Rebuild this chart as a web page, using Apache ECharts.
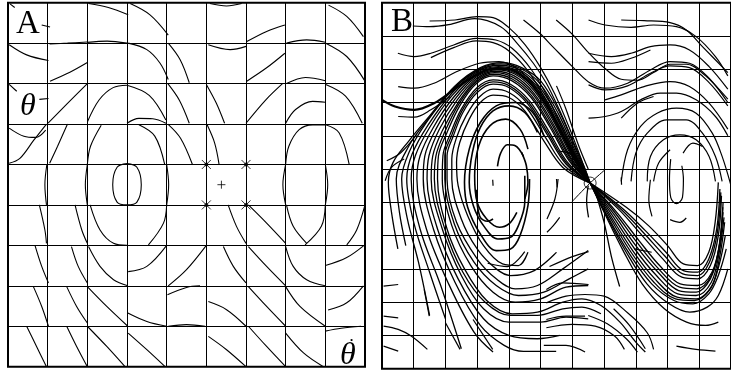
<!DOCTYPE html>
<html>
<head>
<meta charset="utf-8">
<script src="https://cdn.jsdelivr.net/npm/echarts@6/dist/echarts.min.js"></script>
<style>
  html, body { margin: 0; padding: 0; background: #fff; }
  #chart { width: 731px; height: 371px; }
</style>
</head>
<body>
<div id="chart"></div>
<script>
// panel A: 9 x 9 cells, one short curve per cell (x = cell column, y = cell row from top)
const segmentsA = [
  [[0.05,0.03],[0.17,0.12]],
  [[0.85,0.55],[1.06,0.6]],
  [[2.03,0.02],[2.53,0.12],[3.03,0.3]],
  [[3.08,0.02],[3.58,0.3],[4.04,0.8]],
  [[5.09,0.02],[5.51,0.08],[5.89,0.02]],
  [[6.02,0.96],[6.52,0.71],[6.98,0.55]],
  [[8.08,0.06],[8.54,0.34],[8.96,0.84]],
  [[1.05,1.02],[1.5,1.0],[2.0,0.97]],
  [[2.0,0.98],[2.5,0.95],[3.0,1.0]],
  [[7.02,1.0],[7.53,0.92],[8.0,0.98]],
  [[0.03,1.04],[0.47,1.29],[1.02,1.43]],
  [[1.06,1.94],[1.56,1.72],[2.0,1.48]],
  [[3.03,1.0],[3.5,1.16],[3.83,1.49],[4.04,1.9]],
  [[4.04,1.0],[4.34,1.41],[4.57,1.98]],
  [[5.05,1.04],[5.6,1.16],[6.0,1.08]],
  [[6.02,1.94],[6.52,1.61],[6.98,1.25]],
  [[7.02,2.0],[7.5,1.85],[8.0,1.93]],
  [[8.01,1.0],[8.54,1.33],[9.0,1.94]],
  [[0.03,2.02],[0.22,2.19]],
  [[0.79,2.39],[1.02,2.37]],
  [[1.01,2.98],[1.5,2.49],[2.0,2.0]],
  [[2.0,2.95],[2.3,2.4],[2.65,2.1],[3.0,2.04]],
  [[3.0,2.04],[3.56,2.29],[3.98,2.9]],
  [[3.0,2.98],[3.3,2.86],[3.65,2.87],[3.98,2.98]],
  [[4.03,2.0],[4.32,2.41],[4.57,2.98]],
  [[5.0,2.02],[5.25,2.48],[5.46,2.98]],
  [[6.0,2.98],[6.5,2.4],[6.92,2.0]],
  [[7.0,2.98],[7.25,2.64],[7.68,2.44],[8.0,2.46]],
  [[8.01,2.02],[8.51,2.31],[8.93,2.98]],
  [[0.03,3.1],[0.4,3.3],[0.7,3.33],[0.95,3.15]],
  [[0.03,3.97],[0.3,3.85],[0.65,3.4],[0.97,3.0]],
  [[1.05,3.97],[1.25,3.55],[1.5,3.0]],
  [[2.0,4.0],[2.08,3.55],[2.35,3.03]],
  [[3.3,3.02],[3.7,3.3],[3.95,4.0]],
  [[4.03,3.0],[4.35,3.35],[4.65,4.0]],
  [[5.02,3.02],[5.21,3.47],[5.32,3.99]],
  [[7.0,3.99],[7.08,3.55],[7.34,3.14],[7.68,3.02],[8.0,3.02]],
  [[8.01,3.02],[8.35,3.22],[8.6,3.99]],
  [[0.98,4.0],[0.93,4.5],[0.97,5.0]],
  [[2.0,4.0],[1.95,4.5],[2.0,5.0]],
  [[4.0,4.0],[4.05,4.5],[4.0,5.0]],
  [[3.0,3.98],[3.25,4.07],[3.36,4.5],[3.25,4.93],[3.0,5.0],[2.75,4.93],[2.64,4.5],[2.75,4.07],[3.0,3.98]],
  [[7.0,4.0],[6.93,4.5],[7.0,5.0]],
  [[8.0,4.0],[8.06,4.5],[8.0,5.0]],
  [[0.79,5.0],[0.93,5.62],[0.97,5.95]],
  [[1.69,5.0],[1.86,5.62],[2.0,5.95]],
  [[2.07,5.0],[2.32,5.62],[2.66,5.95],[3.0,6.0]],
  [[4.0,5.0],[3.92,5.45],[3.54,5.99]],
  [[5.55,5.0],[5.76,5.53],[6.0,5.95]],
  [[6.06,5.0],[6.52,5.45],[7.0,5.95]],
  [[7.02,5.0],[7.19,5.53],[7.53,5.95]],
  [[8.0,5.0],[7.9,5.53],[7.49,5.99]],
  [[9.0,5.0],[8.79,5.62],[8.54,5.99]],
  [[0.68,6.0],[0.85,6.52],[1.02,6.93]],
  [[1.6,6.03],[1.77,6.52],[2.0,6.93]],
  [[2.03,6.03],[2.32,6.52],[2.66,6.85],[3.02,7.0]],
  [[3.03,6.65],[3.5,6.52],[4.0,6.0]],
  [[4.04,7.0],[4.5,6.6],[5.0,6.0]],
  [[5.43,6.03],[5.68,6.52],[6.0,6.93]],
  [[6.06,6.03],[6.52,6.52],[7.0,7.0]],
  [[7.0,6.03],[7.19,6.52],[7.53,6.85],[8.0,7.0]],
  [[8.0,6.5],[8.54,6.3],[9.0,5.98]],
  [[0.64,7.02],[0.85,7.51],[1.02,8.0]],
  [[1.48,7.02],[1.73,7.51],[2.0,7.92]],
  [[2.0,7.02],[2.49,7.51],[3.02,8.0]],
  [[3.02,7.67],[3.5,7.88],[4.0,8.0]],
  [[4.02,7.22],[4.5,7.04],[4.84,7.0]],
  [[5.05,7.39],[5.51,7.59],[6.0,8.0]],
  [[6.06,7.02],[6.52,7.51],[7.0,8.0]],
  [[7.0,7.02],[7.36,7.51],[8.0,8.0]],
  [[8.07,7.6],[8.54,7.42],[8.96,7.0]],
  [[0.47,8.0],[0.72,8.5],[0.97,9.0]],
  [[1.48,8.0],[1.73,8.5],[2.0,9.0]],
  [[2.0,8.0],[2.49,8.5],[2.95,9.0]],
  [[3.03,8.17],[3.5,8.58],[3.96,9.0]],
  [[4.04,8.0],[4.5,7.96],[4.97,8.0]],
  [[5.05,8.25],[5.51,8.58],[6.0,9.0]],
  [[6.06,8.0],[6.52,8.5],[7.0,9.0]],
  [[7.0,8.17],[7.45,8.66],[7.95,9.0]],
  [[8.0,8.12],[8.4,8.05],[8.9,8.0]]
];
const saddleMarksA = [[5,4],[6,4],[5,5],[6,5]];
const centreMarkA = [[5.38,4.5]];

// panel B: 11 x 11 cells (the right edge is cut off by the page)
const leftBundleB = [
  [[6.56,5.42],[6.15,4.5],[5.6,3.3],[5.0,2.35],[4.4,1.95],[3.8,1.8],[3.1,1.95],[2.3,2.5],[1.5,3.4],[0.85,4.15],[0.35,4.8],[0.2,5.4],[0.3,6.3],[0.5,7.4]],
  [[6.56,5.42],[6.12,4.52],[5.55,3.32],[4.95,2.4],[4.35,1.97],[3.75,1.84],[3.05,2.0],[2.25,2.58],[1.45,3.5],[0.85,4.3],[0.45,5.3],[0.55,6.3],[0.75,7.3]],
  [[6.56,5.42],[6.1,4.55],[5.5,3.35],[4.9,2.45],[4.3,2.0],[3.7,1.88],[3.0,2.05],[2.2,2.65],[1.4,3.6],[0.85,4.5],[0.62,5.3],[0.8,6.5],[1.15,7.8],[1.5,9.4]],
  [[6.56,5.42],[6.07,4.58],[5.47,3.4],[4.87,2.5],[4.27,2.04],[3.67,1.92],[2.97,2.1],[2.2,2.72],[1.45,3.68],[0.95,4.55],[0.78,5.3],[1.0,6.6],[1.5,8.1],[2.0,9.5]],
  [[6.56,5.42],[6.05,4.6],[5.45,3.45],[4.85,2.55],[4.25,2.08],[3.65,1.95],[2.95,2.15],[2.2,2.8],[1.5,3.75],[1.05,4.6],[0.92,5.3],[1.2,6.8],[1.85,8.5],[2.5,10.4]],
  [[6.56,5.42],[6.02,4.62],[5.42,3.5],[4.82,2.6],[4.22,2.12],[3.62,1.98],[2.95,2.2],[2.25,2.85],[1.6,3.78],[1.2,4.6],[1.1,5.3],[1.4,6.8],[2.1,8.45],[2.9,9.9],[3.5,10.5]],
  [[6.56,5.42],[6.0,4.65],[5.4,3.55],[4.8,2.65],[4.2,2.15],[3.6,2.02],[2.95,2.25],[2.3,2.9],[1.7,3.8],[1.35,4.6],[1.3,5.3],[1.62,6.8],[2.3,8.4],[3.1,9.7],[3.85,10.3],[4.46,10.48],[5.49,10.48]],
  [[6.56,5.42],[5.97,4.68],[5.37,3.6],[4.77,2.7],[4.17,2.2],[3.57,2.06],[2.95,2.3],[2.35,2.95],[1.8,3.82],[1.48,4.6],[1.42,5.3],[1.75,6.8],[2.4,8.3],[3.2,9.5],[4.0,10.0],[4.9,10.1],[5.6,10.0]],
  [[6.56,5.42],[5.95,4.7],[5.35,3.65],[4.75,2.75],[4.15,2.25],[3.55,2.1],[2.95,2.35],[2.4,3.0],[1.9,3.85],[1.6,4.6],[1.55,5.3],[1.9,6.8],[2.5,8.2],[3.2,9.2],[4.0,9.6],[5.0,9.6],[5.8,9.45],[6.5,9.5]],
  [[6.56,5.42],[5.92,4.72],[5.32,3.7],[4.72,2.8],[4.12,2.3],[3.52,2.15],[2.95,2.4],[2.42,3.05],[1.98,3.88],[1.7,4.6],[1.65,5.3],[1.98,6.8],[2.55,8.1],[3.25,9.0],[4.05,9.4],[4.9,9.4],[5.7,9.2],[6.3,9.15],[6.9,9.35]],
  [[6.56,5.42],[5.9,4.75],[5.3,3.75],[4.7,2.85],[4.1,2.35],[3.5,2.2],[2.95,2.45],[2.45,3.1],[2.05,3.9],[1.78,4.6],[1.75,5.3],[2.05,6.8],[2.6,8.0],[3.3,8.95],[4.1,9.35],[4.9,9.3],[5.7,9.0],[6.3,8.9],[6.9,9.1],[7.5,9.6],[8.0,10.2],[8.3,10.5]],
  [[6.56,5.42],[5.85,4.8],[5.25,3.85],[4.65,2.95],[4.05,2.45],[3.5,2.32],[3.0,2.55],[2.5,3.2],[2.15,3.95],[1.92,4.6],[1.9,5.3],[2.2,6.7],[2.8,7.9],[3.5,8.7],[4.2,9.0],[5.0,8.9],[5.8,8.55],[6.5,8.5]],
  [[6.56,5.42],[5.82,4.82],[5.22,3.9],[4.62,3.0],[4.02,2.5],[3.5,2.38],[3.0,2.62],[2.52,3.25],[2.2,3.98],[1.98,4.6],[1.98,5.3],[2.28,6.65],[2.9,7.8],[3.6,8.5],[4.3,8.8],[5.1,8.7],[5.9,8.3],[6.5,8.0]],
  [[6.56,5.42],[5.8,4.85],[5.2,3.95],[4.6,3.05],[4.0,2.55],[3.5,2.45],[3.0,2.7],[2.55,3.3],[2.25,4.0],[2.05,4.6],[2.05,5.3],[2.35,6.6],[3.0,7.7],[3.6,8.3],[4.2,8.6],[4.9,8.5],[5.7,8.0],[6.5,7.45]],
  [[6.56,5.42],[5.75,4.9],[5.15,4.05],[4.55,3.15],[4.0,2.7],[3.5,2.6],[3.05,2.85],[2.65,3.4],[2.35,4.05],[2.2,4.7],[2.2,5.3],[2.5,6.5],[3.0,7.4],[3.6,8.0],[4.05,8.2],[4.8,8.05],[5.5,7.5]],
  [[6.56,5.42],[5.7,4.95],[5.1,4.15],[4.5,3.25],[4.0,2.85],[3.5,2.78],[3.1,3.0],[2.75,3.5],[2.45,4.2],[2.35,4.8],[2.4,5.5],[2.7,6.4],[3.2,7.3],[3.8,7.85],[4.3,7.9],[4.6,7.5]]
];
const leftLoopsB = [
  [[5.1,4.0],[4.75,3.3],[4.2,3.0],[3.6,3.1],[3.1,3.6],[2.75,4.4],[2.6,5.4],[2.7,6.15],[3.1,6.95],[3.6,7.45],[4.05,7.4],[4.35,7.0],[4.6,6.1],[4.65,5.3]],
  [[4.9,3.9],[4.5,3.3],[4.0,3.1],[3.5,3.25],[3.1,3.75],[2.85,4.5],[2.75,5.4],[2.88,6.1],[3.2,6.7],[3.65,7.1],[4.05,7.05],[4.3,6.7],[4.5,6.0],[4.5,5.2]],
  [[4.6,4.4],[4.35,3.8],[3.9,3.5],[3.4,3.7],[3.05,4.3],[2.92,5.2],[3.0,6.0],[3.3,6.5],[3.7,6.75],[4.0,6.65],[4.25,6.3]],
  [[2.97,5.62],[3.08,6.42],[3.33,6.57],[3.5,6.5]],
  [[3.64,4.92],[3.74,4.52],[3.95,4.27],[4.2,4.3],[4.46,4.62]],
  [[4.4,4.5],[4.55,4.9],[4.6,5.4],[4.5,5.9]]
];
const rightBundleB = [
  [[6.56,5.42],[7.0,6.3],[7.6,7.45],[8.2,8.45],[8.9,9.2],[9.6,9.6],[10.2,9.7],[10.6,9.6]],
  [[6.56,5.42],[7.05,6.35],[7.7,7.5],[8.35,8.45],[9.05,9.05],[9.7,9.3],[10.25,9.15],[10.6,8.8],[10.9,8.0]],
  [[6.56,5.42],[7.1,6.4],[7.8,7.55],[8.5,8.45],[9.2,8.95],[9.8,9.05],[10.3,8.75],[10.6,8.2],[10.85,7.4]],
  [[6.56,5.42],[7.15,6.4],[7.85,7.5],[8.55,8.38],[9.25,8.9],[9.85,8.95],[10.35,8.6],[10.62,7.9],[10.82,7.0]],
  [[6.56,5.42],[7.2,6.4],[7.9,7.45],[8.6,8.3],[9.3,8.85],[9.9,8.9],[10.4,8.5],[10.65,7.6],[10.8,6.6]],
  [[6.56,5.42],[7.25,6.38],[7.95,7.38],[8.65,8.2],[9.32,8.75],[9.9,8.8],[10.38,8.4],[10.62,7.55],[10.78,6.45]],
  [[6.56,5.42],[7.3,6.35],[8.0,7.3],[8.7,8.1],[9.35,8.65],[9.9,8.7],[10.35,8.3],[10.6,7.5],[10.75,6.3]],
  [[6.56,5.42],[7.35,6.32],[8.05,7.22],[8.72,8.0],[9.38,8.55],[9.92,8.6],[10.38,8.2],[10.62,7.35],[10.74,6.15]],
  [[6.56,5.42],[7.4,6.3],[8.1,7.15],[8.75,7.9],[9.4,8.45],[9.95,8.5],[10.4,8.1],[10.65,7.2],[10.75,6.0]],
  [[6.56,5.42],[7.5,6.25],[8.2,7.0],[8.85,7.7],[9.45,8.25],[9.95,8.3],[10.35,7.9],[10.6,7.0],[10.7,5.8]],
  [[6.56,5.42],[7.55,6.22],[8.25,6.92],[8.9,7.6],[9.48,8.15],[9.95,8.2],[10.32,7.8],[10.57,6.9],[10.68,5.7]],
  [[6.56,5.42],[7.6,6.2],[8.3,6.85],[8.95,7.5],[9.5,8.05],[9.95,8.1],[10.3,7.7],[10.55,6.8],[10.65,5.6]],
  [[6.56,5.42],[7.7,6.15],[8.4,6.7],[9.0,7.3],[9.5,7.85],[9.95,7.9],[10.3,7.5],[10.5,6.6],[10.6,5.4]],
  [[6.7,5.6],[7.0,6.6],[7.23,7.63],[7.49,8.53]],
  [[6.5,5.5],[6.45,5.95],[6.51,6.45]]
];
const rightArcsB = [
  [[7.54,5.37],[7.74,4.42],[8.15,3.72],[8.67,3.32],[9.28,3.17],[9.9,3.32],[10.41,3.92],[10.72,4.62],[11.0,5.5]],
  [[7.85,5.37],[8.0,4.52],[8.36,3.92],[8.97,3.52],[9.59,3.52],[10.1,3.92],[10.51,4.62],[10.72,5.37]],
  [[8.36,5.37],[8.46,4.62],[8.87,4.12],[9.39,3.97],[9.9,4.12],[10.31,4.62],[10.51,5.37]],
  [[8.56,5.37],[8.72,4.82],[9.08,4.42]],
  [[9.49,4.52],[9.8,4.22],[10.1,4.32]],
  [[8.46,5.32],[8.41,5.92],[8.51,6.42]],
  [[9.1,4.7],[9.06,5.3],[9.1,5.85],[9.28,6.04],[9.47,5.85],[9.5,5.3],[9.45,4.9]],
  [[9.08,6.52],[9.39,6.6],[9.59,6.47]],
  [[7.95,7.4],[8.5,7.5]]
];
const upperWavesB = [
  [[0.97,0.7],[1.5,0.72],[2.1,0.66],[2.92,0.48],[3.74,0.72],[4.26,1.22],[4.77,1.82],[5.18,2.42],[5.59,3.22],[6.0,4.12],[6.41,5.02],[6.56,5.42]],
  [[1.5,0.55],[2.3,0.52],[3.0,0.42],[3.5,0.45],[4.0,0.75],[4.5,1.25],[5.0,1.95],[5.45,2.75],[5.9,3.75],[6.3,4.75],[6.56,5.42]],
  [[0.5,1.52],[1.02,1.62],[1.54,1.52],[2.26,1.27],[2.97,1.07],[3.59,1.12],[4.1,1.37],[4.7,2.0],[5.2,2.8],[5.7,3.8],[6.2,4.8],[6.56,5.42]],
  [[1.54,1.65],[2.26,1.35],[2.97,1.15],[3.5,1.2],[4.0,1.45],[4.6,2.05],[5.15,2.9],[5.65,3.85],[6.15,4.8],[6.56,5.42]],
  [[0.51,2.52],[1.02,2.57],[1.64,2.42],[2.36,2.07],[3.07,1.82],[3.69,1.77],[4.3,2.0],[4.9,2.6],[5.4,3.4],[5.9,4.3],[6.3,5.0],[6.56,5.42]],
  [[0.51,3.42],[1.02,3.44],[1.54,3.22],[2.15,2.82]],
  [[0.15,4.75],[0.6,4.5],[1.1,3.95]],
  [[0.1,5.35],[0.3,4.95],[0.7,4.7]],
  [[5.5,2.5],[5.8,3.2],[6.2,4.3],[6.5,5.0]],
  [[5.59,4.47],[5.9,4.52],[6.21,4.82]],
  [[4.46,0.52],[4.97,0.92],[5.38,1.32],[6.0,1.92],[6.51,2.38],[7.03,2.57],[7.74,2.42],[8.46,2.02],[9.08,1.77],[9.69,1.82],[10.31,2.27],[10.9,3.0]],
  [[5.49,0.52],[6.0,0.95],[6.51,1.5],[7.03,1.98],[7.54,2.3],[8.05,2.33],[8.56,2.1],[9.08,1.85],[9.6,1.85],[10.2,2.2],[10.9,2.9]],
  [[7.54,0.52],[8.26,0.54],[9.08,0.6],[9.59,0.82],[10.1,1.32],[10.9,2.1]],
  [[6.51,0.52],[7.03,0.67],[7.85,0.74],[8.56,0.67],[9.28,0.72],[9.9,1.02],[10.51,1.62],[10.9,2.2]],
  [[6.51,1.52],[7.23,1.62],[7.85,1.52],[8.46,1.32],[9.08,1.27],[9.69,1.42],[10.31,1.92],[10.9,2.6]],
  [[6.51,1.77],[7.23,1.82],[7.85,1.67],[8.46,1.42]],
  [[6.51,2.47],[7.03,2.62],[7.74,2.5],[8.46,2.12],[9.08,1.9],[9.69,1.95],[10.31,2.4],[10.9,3.1]],
  [[7.03,2.92],[7.54,2.77],[8.26,2.52],[9.08,2.37],[9.69,2.52],[10.31,3.02],[10.9,3.8]],
  [[6.51,3.47],[7.03,3.42],[7.54,3.27],[8.15,2.92],[8.77,2.72],[9.28,2.72],[9.9,2.92],[10.51,3.42],[10.9,4.0]],
  [[7.54,3.47],[8.05,3.02],[8.56,2.82]]
];
const thickWaveB = [
  [[0,2.92],[0.41,3.12],[1.02,3.22],[1.64,3.02],[2.26,2.62],[2.97,2.17],[3.59,1.97],[4.1,2.02],[4.7,2.45],[5.25,3.2],[5.75,4.1],[6.2,4.9],[6.56,5.42]]
];
const lowerWavesB = [
  [[0.05,8.52],[0.51,8.47]],
  [[0.05,9.42],[0.51,9.47]],
  [[0.05,9.72],[0.51,9.82],[0.92,10.02],[1.43,10.42]],
  [[0.05,10.32],[0.51,10.47]],
  [[1.33,8.62],[1.49,9.42]],
  [[2.0,9.62],[2.46,10.42]],
  [[2.87,9.52],[3.49,10.42]],
  [[3.33,7.83],[3.95,7.93],[4.5,7.48]],
  [[5.28,7.93],[6.0,7.63],[6.51,7.48]],
  [[5.18,8.62],[5.69,8.42],[6.51,8.47]],
  [[5.18,9.02],[5.8,8.82],[6.4,8.77],[7.0,8.82],[7.74,9.32],[8.36,9.92],[8.56,10.42]],
  [[5.18,9.52],[5.8,9.42],[6.4,9.42]],
  [[5.18,9.77],[6.0,9.67],[6.72,9.72],[7.33,10.02],[7.64,10.42]],
  [[5.1,10.3],[5.8,10.3],[6.4,10.5]],
  [[6.5,9.4],[7.1,9.65],[7.7,10.1],[8.05,10.5]],
  [[7.3,9.2],[7.8,9.7],[8.3,10.4]],
  [[9.28,10.32],[9.9,10.42],[10.51,10.47]],
  [[5.55,5.3],[5.45,5.9],[5.2,6.5]],
  [[5.2,6.9],[5.4,6.7],[5.6,6.45]],
  [[3.49,5.32],[3.5,5.5]],
  [[5.5,5.3],[5.52,5.55]],
  [[7.54,5.25],[7.55,5.47]]
];
const saddleCrossB = [
  [[7.03,5.02],[6.56,5.42],[6.0,5.97]],
  [[6.0,5.02],[6.56,5.42]]
];
const saddleB = [[6.56,5.42]];

const chart = echarts.init(document.getElementById('chart'), null, {renderer: 'canvas'});

function curves(list, axis, width) {
  return list.map(pts => ({
    type: 'line', xAxisIndex: axis, yAxisIndex: axis, data: pts,
    smooth: 0.35, symbol: 'none', silent: true, clip: true,
    lineStyle: {color: '#000', width: width}
  }));
}

const blank = {show: false};
function cellAxis(idx, max, inverse) {
  return {
    type: 'value', gridIndex: idx, min: 0, max: max, interval: 1, inverse: inverse,
    axisLine: blank, axisTick: blank, axisLabel: blank,
    splitLine: {show: true, lineStyle: {color: '#000', width: 1}}
  };
}

const labelFont = {fontFamily: 'Liberation Serif', fontWeight: 'normal', color: '#000'};

chart.setOption({
  animation: false,
  backgroundColor: '#fff',
  title: [
    {text: 'A', left: 11, top: 3, textStyle: Object.assign({fontSize: 33}, labelFont)},
    {text: 'θ', left: 15, top: 86, textStyle: Object.assign({fontSize: 32, fontStyle: 'italic'}, labelFont)},
    {text: 'θ', left: 335, top: 335, textStyle: Object.assign({fontSize: 32, fontStyle: 'italic'}, labelFont)},
    {text: '•', left: 345, top: 331, textStyle: Object.assign({fontSize: 9}, labelFont)},
    {text: 'B', left: 386, top: 1, textStyle: Object.assign({fontSize: 33}, labelFont)}
  ],
  grid: [
    {left: 8, top: 2.7, width: 357, height: 364, show: true, borderColor: '#000', borderWidth: 2, backgroundColor: 'transparent'},
    {left: 382, top: 2.7, width: 357.5, height: 366, show: true, borderColor: '#000', borderWidth: 2, backgroundColor: 'transparent'}
  ],
  xAxis: [cellAxis(0, 9, false), cellAxis(1, 11, false)],
  yAxis: [cellAxis(0, 9, true), cellAxis(1, 11, true)],
  series: [].concat(
    curves(segmentsA, 0, 1.1),
    [
      {type: 'scatter', xAxisIndex: 0, yAxisIndex: 0, data: saddleMarksA, silent: true,
       symbol: 'path://M0,0L10,10M10,0L0,10', symbolSize: 9,
       itemStyle: {color: '#000', borderColor: '#000', borderWidth: 1}},
      {type: 'scatter', xAxisIndex: 0, yAxisIndex: 0, data: saddleMarksA, silent: true,
       symbol: 'circle', symbolSize: 4, itemStyle: {color: '#000'}},
      {type: 'scatter', xAxisIndex: 0, yAxisIndex: 0, data: centreMarkA, silent: true,
       symbol: 'path://M5,0L5,10M0,5L10,5', symbolSize: 8,
       itemStyle: {color: '#000', borderColor: '#000', borderWidth: 1}}
    ],
    curves(leftBundleB, 1, 1.3),
    curves(leftLoopsB, 1, 1.6),
    curves(rightBundleB, 1, 1.3),
    curves(rightArcsB, 1, 1.2),
    curves(upperWavesB, 1, 1.2),
    curves(thickWaveB, 1, 2.2),
    curves(lowerWavesB, 1, 1.2),
    curves(saddleCrossB, 1, 1),
    [
      {type: 'scatter', xAxisIndex: 1, yAxisIndex: 1, data: saddleB, silent: true,
       symbol: 'circle', symbolSize: 12,
       itemStyle: {color: 'rgba(0,0,0,0)', borderColor: '#000', borderWidth: 1}}
    ]
  )
});
</script>
</body>
</html>
